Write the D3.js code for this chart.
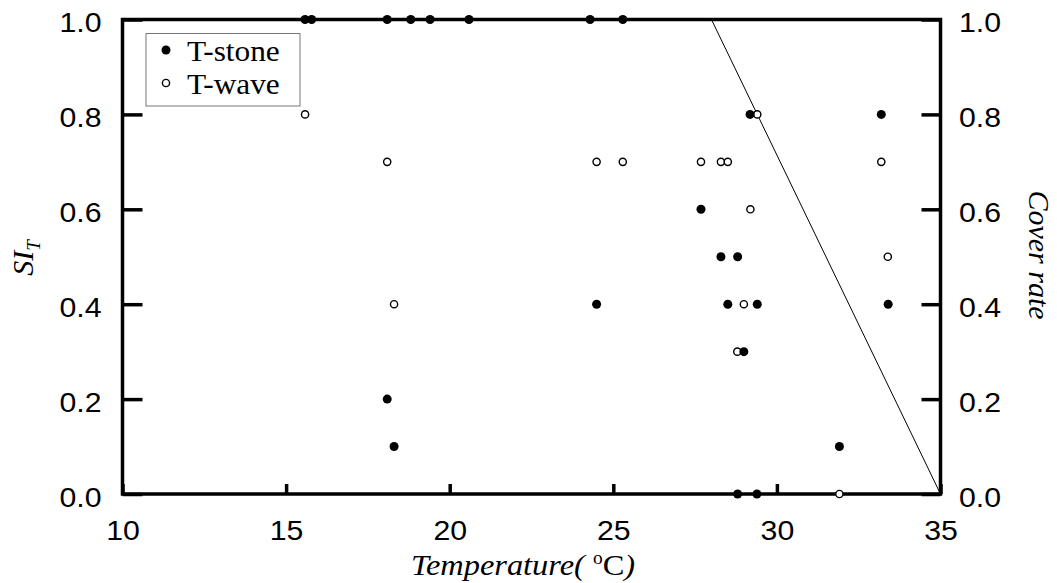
<!DOCTYPE html>
<html><head><meta charset="utf-8">
<script src="https://cdn.jsdelivr.net/npm/d3@7"></script>
<style>body{margin:0;background:#fff}svg{display:block}</style>
</head><body>
<svg id="c" width="1057" height="583"></svg>
<script>
// Data
const stoneT  = [15.58,15.78,18.09,18.81,19.40,20.59,24.29,25.29, 29.18,33.19, 27.68, 28.29,28.80, 24.49,28.50,29.40,33.40, 28.99, 18.09, 18.30,31.91, 28.80,29.39];
const stoneSI = [1.0,1.0,1.0,1.0,1.0,1.0,1.0,1.0, 0.8,0.8, 0.6, 0.5,0.5, 0.4,0.4,0.4,0.4, 0.3, 0.2, 0.1,0.1, 0.0,0.0];
const waveT   = [15.58, 18.09,24.49,25.29,27.68,28.29,28.50,33.19, 29.40, 29.19, 33.39, 18.30,28.99, 28.79, 31.91];
const waveSI  = [0.8, 0.7,0.7,0.7,0.7,0.7,0.7,0.7, 0.8, 0.6, 0.5, 0.4,0.4, 0.3, 0.0];
const coverLineT = [28.0, 35.0];
const coverLineV = [1.0, 0.0];
const xTicks = [10,15,20,25,30,35];
const yTicks = [0,0.2,0.4,0.6,0.8,1.0];
const legendLabels = ["T-stone","T-wave"];

const svg = d3.select("#c");
const L=122.5, R=940.5, T=19.5, B=494;
const SX = 1.08;
const x = d3.scaleLinear().domain([10,35]).range([L,R]);
const y = d3.scaleLinear().domain([0,1]).range([B,T]);
const yr = d3.scaleLinear().domain([0,1]).range([B,T]);
const fmt = d3.format(".1f");
const tickFont = "'Liberation Sans', Arial, sans-serif";
const serif = "'Liberation Serif','Times New Roman',serif";

// cover line
svg.append("line").attr("x1",x(coverLineT[0])).attr("y1",yr(coverLineV[0]))
  .attr("x2",x(coverLineT[1])).attr("y2",yr(coverLineV[1]))
  .attr("stroke","#000").attr("stroke-width",1);

function styleAxis(g){
  g.selectAll(".domain").remove();
  g.selectAll(".tick line").attr("stroke","#000").attr("stroke-width",3.5);
  g.selectAll(".tick text").attr("fill","#000").style("font-family",tickFont).style("font-size","28px")
    .each(function(){
      const t = d3.select(this);
      const ox = +t.attr("x") || 0;
      t.attr("x", ox/SX).attr("transform",`scale(${SX},1)`);
    });
}
// frame
svg.append("rect").attr("x",L).attr("y",T).attr("width",R-L).attr("height",B-T)
  .attr("fill","none").attr("stroke","#000").attr("stroke-width",3.5);

svg.append("g").attr("transform",`translate(${L},0)`)
  .call(d3.axisLeft(y).tickValues(yTicks).tickFormat(fmt).tickSize(-20).tickPadding(21))
  .call(styleAxis).call(g=>g.selectAll(".tick text").attr("dy","0.43em"));
svg.append("g").attr("transform",`translate(${R},0)`)
  .call(d3.axisRight(yr).tickValues(yTicks).tickFormat(fmt).tickSize(-19).tickPadding(18.5))
  .call(styleAxis).call(g=>g.selectAll(".tick text").attr("dy","0.43em"));
svg.append("g").attr("transform",`translate(0,${B})`)
  .call(d3.axisBottom(x).tickValues(xTicks).tickFormat(d3.format("d")).tickSize(-10).tickPadding(26))
  .call(styleAxis);

// points
svg.append("g").selectAll("circle").data(waveT.map((t,i)=>[t,waveSI[i]])).join("circle")
  .attr("cx",d=>x(d[0])).attr("cy",d=>y(d[1])).attr("r",3.6)
  .attr("fill","#fff").attr("stroke","#000").attr("stroke-width",1.4);
svg.append("g").selectAll("circle").data(stoneT.map((t,i)=>[t,stoneSI[i]])).join("circle")
  .attr("cx",d=>x(d[0])).attr("cy",d=>y(d[1])).attr("r",4.5)
  .attr("fill","#000");

// legend
const lg = svg.append("g");
lg.append("rect").attr("x",146).attr("y",33.5).attr("width",154).attr("height",72.5)
  .attr("fill","#fff").attr("stroke","#777").attr("stroke-width",1);
lg.append("circle").attr("cx",166).attr("cy",50).attr("r",4.5).attr("fill","#000");
lg.append("circle").attr("cx",166).attr("cy",83).attr("r",3.6).attr("fill","#fff").attr("stroke","#000").attr("stroke-width",1.4);
lg.selectAll("text").data(legendLabels).join("text")
  .attr("x",187/SX).attr("y",(d,i)=>61+i*33).attr("transform",`scale(${SX},1)`)
  .style("font-family",serif).style("font-size","29px")
  .text(d=>d);

// x label
const xl = svg.append("text").attr("x",523/SX).attr("y",575).attr("text-anchor","middle")
  .attr("transform",`scale(${SX},1)`)
  .style("font-family",serif).style("font-size","30px");
xl.append("tspan").style("font-style","italic").text("Temperature( ");
xl.append("tspan").attr("dy","-11").style("font-size","18px").text("o");
xl.append("tspan").attr("dy","11").text("C");
xl.append("tspan").style("font-style","italic").text(")");

// left y label
const yl = svg.append("text").attr("transform","translate(33,258) rotate(-90)").attr("text-anchor","middle")
  .style("font-family",serif).style("font-size","30px").style("font-style","italic");
yl.append("tspan").text("SI");
yl.append("tspan").attr("dy","7").style("font-size","19px").text("T");

// right y label
svg.append("text").attr("transform","translate(1029,255) rotate(90)").attr("text-anchor","middle")
  .style("font-family",serif).style("font-size","30px").style("font-style","italic")
  .text("Cover rate");
</script>
</body></html>
